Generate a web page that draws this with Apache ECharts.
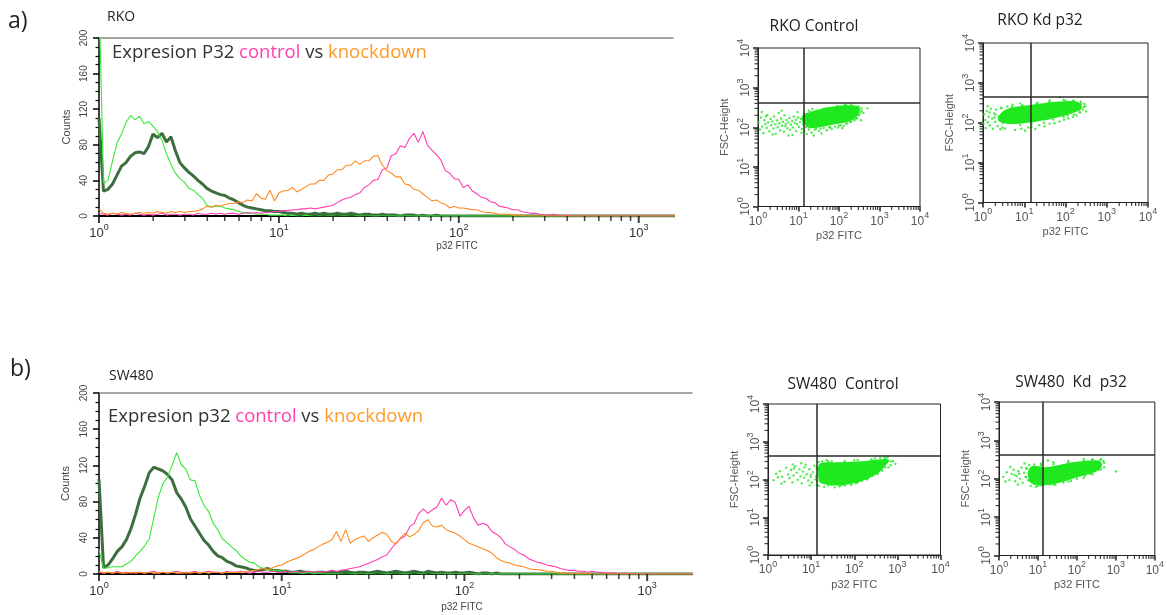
<!DOCTYPE html>
<html><head><meta charset="utf-8">
<script src="https://cdn.jsdelivr.net/npm/echarts@6/dist/echarts.min.js"></script>
<style>html,body{margin:0;padding:0;background:#fff}#c{width:1167px;height:615px}</style>
</head><body><div id="c"></div>
<script>
// ---------- histogram bin centres (p32 FITC, log-spaced channels) ----------
const fitc = [1.000,1.059,1.122,1.189,1.259,1.334,1.413,1.496,1.585,1.679,1.778,1.884,1.995,2.113,2.239,2.371,2.512,2.661,2.818,2.985,
3.162,3.350,3.548,3.758,3.981,4.217,4.467,4.732,5.012,5.309,5.623,5.957,6.310,6.683,7.079,7.499,7.943,8.414,8.913,9.441,
10.00,10.59,11.22,11.89,12.59,13.34,14.13,14.96,15.85,16.79,17.78,18.84,19.95,21.13,22.39,23.71,25.12,26.61,28.18,29.85,
31.62,33.50,35.48,37.58,39.81,42.17,44.67,47.32,50.12,53.09,56.23,59.57,63.10,66.83,70.79,74.99,79.43,84.14,89.13,94.41,
100.0,105.9,112.2,118.9,125.9,133.4,141.3,149.6,158.5,167.9,177.8,188.4,199.5,211.3,223.9,237.1,251.2,266.1,281.8,298.5,
316.2,335.0,354.8,375.8,398.1,421.7,446.7,473.2,501.2,530.9,562.3,595.7,631.0,668.3,707.9,749.9,794.3,841.4,891.3,944.1,
1000,1059,1122,1189,1259,1334,1413,1496,1585,1679,1778];

// ---------- RKO histogram counts ----------
const rkoIsoLight = [250,37,40,62,82,92,105,113,108,112, 104,106,101,95,85,70,58,48,42,38, 31,29,24,20,12,10,11,11,9,8, 7,5,4,3,3,2,2,2,1,1,
1,1,0,1,0,0,1,0,0,0, 0,0,0,0,0,0,0,0,0,0, 0,0,0,0,0,0,0,0,0,0, 0,0,0,0,0,0,0,0,0,0, 0,0,0,0,0,0,0,0,0,0,
0,0,0,0,0,0,0,0,0,0, 0,0,0,0,0,0,0,0,0,0, 0,0,0,0,0,0,0,0,0,0, 0,0,0,0,0,0,0,0,0,0, 0];
const rkoIsoDark = [110,28,30,36,46,56,60,67,71,72, 70,78,92,88,93,83,89,73,60,54, 49,45,40,36,31,28,26,24,23,20, 18,15,12,10,9,8,7,6,6,5,
5,4,3,3,2,3,2,2,3,2, 3,2,2,3,2,2,3,2,1,2, 2,1,1,2,1,1,1,0,1,1, 1,0,1,0,0,1,0,0,0,0, 0,0,0,0,0,0,0,0,0,0,
0,0,0,0,0,0,0,0,0,0, 0,0,0,0,0,0,0,0,0,0, 0,0,0,0,0,0,0,0,0,0, 0,0,0,0,0,0,0,0,0,0, 0];
const rkoControl = [3,2,1,3,2,1,2,1,3,2, 1,2,1,2,3,1,2,2,1,2, 2,1,3,2,2,3,2,3,2,3, 3,2,3,4,3,4,3,4,4,5,
5,6,6,7,7,8,8,9,8,9, 10,11,12,15,18,20,21,24,26,32, 35,40,41,52,54,68,70,79,77,87, 93,83,95,80,74,69,63,51,48,42,
41,32,35,28,25,21,20,16,15,11, 10,9,7,7,5,4,3,3,2,1, 1,2,1,0,1,0,0,0,0,0, 0,0,0,0,0,0,0,0,0,0, 0,0,0,0,0,0,0,0,0,0, 0];
const rkoKnockdown = [8,3,2,3,2,4,3,2,3,4, 3,4,3,5,4,3,5,4,5,4, 5,5,6,8,11,10,12,11,13,14, 14,16,15,18,17,25,20,19,29,17,
26,28,29,32,27,30,33,36,36,40, 40,46,47,52,52,57,57,62,58,62, 62,67,68,57,51,48,44,44,36,35, 30,29,25,21,17,18,15,13,9,11,
9,9,8,7,7,5,4,4,3,2, 2,2,1,1,1,0,0,0,0,0, 0,0,0,0,0,0,0,0,0,0, 0,0,0,0,0,0,0,0,0,0, 0,0,0,0,0,0,0,0,0,0, 0];

// ---------- SW480 histogram counts ----------
const swIsoLight = [27,6,7,8,8,8,11,14,20,25, 31,39,62,85,100,107,120,134,121,116, 104,103,87,76,69,56,49,39,35,30, 26,20,16,13,12,8,6,5,4,4,
3,3,2,2,1,1,2,1,1,0, 0,0,0,0,0,0,0,0,0,0, 0,0,0,0,0,0,0,0,0,0, 0,0,0,0,0,0,0,0,0,0, 0,0,0,0,0,0,0,0,0,0,
0,0,0,0,0,0,0,0,0,0, 0,0,0,0,0,0,0,0,0,0, 0,0,0,0,0,0,0,0,0,0, 0,0,0,0,0,0,0,0,0,0, 0];
const swIsoDark = [105,7,10,17,25,30,38,50,66,84, 97,112,118,116,114,110,104,90,83,74, 61,53,45,37,32,25,20,18,14,12, 9,8,7,5,4,4,5,6,4,4,
3,3,2,2,3,2,2,1,2,2, 1,2,1,2,3,2,1,2,2,1, 2,3,2,1,2,3,2,1,2,3, 2,1,3,2,1,2,1,1,2,1, 1,2,1,0,1,1,0,1,0,0,
0,0,0,0,0,0,0,0,0,0, 0,0,0,0,0,0,0,0,0,0, 0,0,0,0,0,0,0,0,0,0, 0,0,0,0,0,0,0,0,0,0, 0];
const swControl = [2,1,2,1,3,1,2,1,2,2, 1,2,3,1,2,1,2,3,2,1, 2,3,1,2,3,2,2,1,3,2, 2,3,2,1,2,3,2,2,3,2, 2,3,2,3,2,2,3,2,3,2,
3,4,3,4,5,6,7,8,10,12, 14,16,19,21,28,34,39,42,52,56, 67,72,67,71,74,84,76,82,79,64, 70,75,62,54,56,54,47,44,40,33,
30,27,23,21,17,15,13,12,10,9, 8,6,5,4,4,3,3,2,3,2, 2,1,1,1,0,1,0,0,0,0, 0,0,0,0,0,0,0,0,0,0, 0];
const swKnockdown = [3,1,2,1,2,1,1,2,1,2, 1,2,1,1,2,1,2,1,1,2, 1,2,1,2,1,2,2,1,2,2, 2,2,3,3,4,5,6,5,7,9,
10,13,15,17,19,22,25,27,30,33, 35,38,47,36,49,34,38,40,42,36, 40,43,46,44,36,33,40,45,41,44, 48,57,60,53,52,54,49,47,45,42,
38,34,32,30,28,26,23,18,15,13, 12,10,9,8,6,5,5,4,3,3, 2,1,1,1,0,1,0,1,0,0, 0,0,0,0,0,0,0,0,0,0, 0,0,0,0,0,0,0,0,0,0, 0];

// ---------- dot plots: dense-core outlines and scattered events [p32 FITC, FSC-Height] ----------
const rkoCtrlCore = [[16.1,229],[71.6,335],[274,349],[331,277],[222,155],[71.6,117],[19.4,95],[13.1,128],[12.1,188]];
const rkoCtrlDots = [[1.03,132],[1.12,88],[1.18,176],[1.27,104],[1.36,71],[1.45,150],[1.52,121],[1.63,96],[1.71,205],[1.78,133],[1.92,79],[2.05,162],[2.12,112],[2.27,141],[2.41,93],[2.49,188],[2.66,118],[2.73,69],[2.95,149],[3.07,101],[3.25,228],[3.38,127],[3.52,84],[3.71,166],[3.95,109],[4.14,138],[4.38,77],[4.52,199],[4.85,122],[5.08,152],[5.33,94],[5.61,131],[5.95,171],[6.21,86],[6.48,116],[6.93,143],[7.25,99],[7.66,188],[8.02,128],[8.55,154],[8.81,80],[9.22,119],[9.78,176],[10.3,102],[10.9,137],[11.5,163],[12.1,90],[12.8,121],[1.24,243],[2.31,66],[3.86,262],[5.7,62],[9.5,241],[7.1,64],[1.58,190],[4.7,107],[11.8,73],
[14,80],[16,68],[18,88],[21,74],[24,62],[27,92],[32,80],[37,70],[42,96],[50,84],[58,100],[66,90],[80,104],[95,98],[110,112],[130,108],[160,125],[190,135],[240,150],[280,170],[320,210],[360,260],[400,230],[300,300],[250,320],[120,95],[150,360],[45,300],[18,260],[22,290],[500,300],[350,150],
[14,215],[20,240],[28,265],[40,290],[55,310],[90,345],[140,365],[200,370],[300,335],[360,300],[340,240],[300,200],[260,165],[200,140],[150,125],[100,110],[60,100],[35,92],[25,88],[15,100]];
const rkoKdCore = [[3.4,209],[13.8,277],[73,339],[200,331],[251,234],[129,166],[24,110],[4.5,93],[2.3,117]];
const rkoKdDots = [[1.02,96],[1.07,162],[1.13,118],[1.16,74],[1.24,198],[1.31,103],[1.38,142],[1.47,86],[1.55,226],[1.66,128],[1.74,71],[1.86,171],[1.97,104],[2.08,214],[2.26,83],[2.44,147],[2.62,69],[2.93,76],[3.4,72],[3.9,255],[2.75,238],[1.3,260],[1.9,135],[1.45,180],
[6,66],[8.5,71],[10.5,63],[12.5,76],[15,79],[18.5,70],[23,87],[31,81],[41,95],[54,97],[72,108],[92,119],[118,128],[152,141],[185,152],[225,178],[262,214],[305,262],[285,298],[235,335],[150,358],[90,378],[73,440],[42,362],[21,318],[8,302],[5.2,282],[172,205],[318,192],[112,152],
[2,160],[2.8,230],[5,250],[9,275],[20,300],[40,330],[100,355],[160,350],[240,300],[280,250],[220,190],[160,160],[90,140],[50,120],[30,100],[15,95],[8,88],[3,98]];
const swCtrlCore = [[14.5,150],[16,265],[40,285],[178,310],[450,345],[640,330],[560,250],[290,125],[73,74],[17,80]];
const swCtrlDots = [[1.35,96],[1.55,142],[1.88,165],[2.15,118],[2.42,88],[2.63,205],[2.91,137],[3.12,108],[3.44,178],[3.68,84],[3.93,128],[4.25,225],[4.6,152],[4.92,98],[5.35,186],[5.7,121],[6.1,79],[6.45,163],[6.9,112],[7.5,246],[7.95,138],[8.6,94],[9.1,188],[9.7,118],[10.4,83],[11.1,157],[11.9,232],[12.6,101],[3.75,252],[5.9,270],[2.05,78],[9.3,70],[1.7,115],[4.0,195],[7.0,210],[10,135],
[13.5,72],[15,68],[20,64],[25,70],[35,62],[45,66],[60,68],[85,72],[110,80],[150,92],[200,105],[260,125],[350,155],[420,190],[520,210],[700,240],[790,310],[600,400],[500,380],[300,360],[100,330],[23,330],[18,300],[30,300],[380,280],[900,260],
[13,120],[13.5,200],[15,290],[25,300],[60,310],[120,330],[250,345],[400,370],[550,360],[700,300],[620,210],[450,170],[350,140],[200,100],[120,85],[50,70],[30,72],[14,90]];
const swKdCore = [[5.5,140],[7,212],[16,200],[40,235],[110,280],[350,300],[450,230],[300,150],[120,115],[30,75],[15,68],[7,74]];
const swKdDots = [[1.28,112],[1.58,148],[1.84,93],[2.12,133],[2.37,172],[2.63,86],[2.86,117],[3.15,158],[3.48,101],[3.79,196],[4.06,79],[4.42,143],[4.76,112],[5.15,183],[5.62,91],[5.95,228],[4.55,251],[3.05,71],[1.95,202],[2.5,125],[3.3,135],[1.45,85],
[6.5,65],[9,62],[12,68],[20,72],[28,70],[45,80],[70,88],[100,100],[160,120],[220,135],[380,170],[500,200],[1000,155],[480,290],[420,330],[250,320],[150,330],[60,290],[25,270],[12,250],[18,300],[300,260],[140,250],
[5,110],[5,190],[8,235],[12,225],[25,240],[60,265],[150,300],[250,320],[400,310],[500,260],[420,180],[250,130],[150,105],[60,85],[25,70],[10,66],[6,90]];

// quadrant gates [p32 FITC, FSC-Height]
const gateRkoCtrl = [13.6, 427];
const gateRkoKd = [14.0, 437];
const gateSwCtrl = [13.2, 417];
const gateSwKd = [12.9, 427];

// tick values
const histMajor = [1, 10, 100, 1000];
const histMinor = [2,3,4,5,6,7,8,9,20,30,40,50,60,70,80,90,200,300,400,500,600,700,800,900];
const dotMinor = [2,3,4,5,6,7,8,9,20,30,40,50,60,70,80,90,200,300,400,500,600,700,800,900,2000,3000,4000,5000,6000,7000,8000,9000];

// ---------- styling ----------
const C_LIGHT = '#35ea35', C_DARK = '#3d6e3d', C_PINK = '#ff3fb0', C_ORANGE = '#ff8a1f', C_DOT = '#1fe81f';
const SANS = '"Liberation Sans", Arial, sans-serif';
const HUM = '"Open Sans", "Noto Sans", sans-serif';

function pow10(v) {
  const l = Math.log10(v), e = Math.round(l);
  return Math.abs(l - e) < 1e-6 ? '{b|10}{s|' + e + '}' : '';
}
function powRich(size, color) {
  return {
    b: { fontSize: size, color: color, fontFamily: SANS, lineHeight: size + 4, verticalAlign: 'bottom' },
    s: { fontSize: Math.round(size * 0.72), color: color, fontFamily: SANS, lineHeight: size + 4, verticalAlign: 'top' }
  };
}

const grids = [
  { left: 99, top: 38, width: 574, height: 178 },
  { left: 99, top: 393, width: 593, height: 181 },
  { left: 758, top: 48, width: 162, height: 158.5, show: true, borderColor: '#222', borderWidth: 1 },
  { left: 983, top: 43, width: 165, height: 159.5, show: true, borderColor: '#222', borderWidth: 1 },
  { left: 768, top: 404, width: 172.5, height: 151, show: true, borderColor: '#222', borderWidth: 1 },
  { left: 999, top: 402, width: 163, height: 153.5, show: true, borderColor: '#222', borderWidth: 1 }
];

function histX(g, max) {
  return { type: 'log', logBase: 10, min: 1, max: max, gridIndex: g,
    axisLine: { show: true, lineStyle: { color: '#000', width: 2 } },
    axisTick: { show: false }, splitLine: { show: false },
    axisLabel: { formatter: pow10, rich: powRich(13, '#333'), margin: 7, showMaxLabel: false } };
}
function histY(g) {
  return { type: 'value', min: 0, max: 200, interval: 40, gridIndex: g,
    axisLine: { show: true, lineStyle: { color: '#000', width: 1.5 } },
    axisTick: { show: true, length: 6, lineStyle: { color: '#000', width: 1.5 } },
    minorTick: { show: true, splitNumber: 4, length: 3.5, lineStyle: { color: '#000', width: 1.2 } },
    splitLine: { show: false },
    axisLabel: { rotate: 90, fontSize: 10, color: '#444', fontFamily: SANS, margin: 10 },
    name: 'Counts', nameLocation: 'middle', nameRotate: 90, nameGap: 27,
    nameTextStyle: { fontSize: 11, color: '#444', fontFamily: SANS } };
}
function dotX(g) {
  return { type: 'log', logBase: 10, min: 1, max: 10000, gridIndex: g,
    axisLine: { show: true, lineStyle: { color: '#222', width: 1 } },
    axisTick: { show: true, length: 5, lineStyle: { color: '#222', width: 1.5 } }, splitLine: { show: false },
    axisLabel: { formatter: pow10, rich: powRich(12, '#555'), margin: 5 },
    name: 'p32 FITC', nameLocation: 'middle', nameGap: 24,
    nameTextStyle: { fontSize: 11, color: '#555', fontFamily: SANS } };
}
function dotY(g) {
  return { type: 'log', logBase: 10, min: 1, max: 10000, gridIndex: g,
    axisLine: { show: true, lineStyle: { color: '#222', width: 1 } },
    axisTick: { show: true, length: 5, lineStyle: { color: '#222', width: 1.5 } }, splitLine: { show: false },
    axisLabel: { formatter: pow10, rich: powRich(12, '#555'), margin: 6, rotate: 90 },
    name: 'FSC-Height', nameLocation: 'middle', nameRotate: 90, nameGap: 28,
    nameTextStyle: { fontSize: 11, color: '#555', fontFamily: SANS } };
}
function topLine(g) {
  return { type: 'value', min: 0, max: 1, gridIndex: g, position: 'top',
    axisLine: { show: true, onZero: false, lineStyle: { color: '#888', width: 1.5 } },
    axisTick: { show: false }, axisLabel: { show: false }, splitLine: { show: false } };
}

const xAxes = [histX(0, 1550), histX(1, 1760), dotX(2), dotX(3), dotX(4), dotX(5), topLine(0), topLine(1)];
const yAxes = [histY(0), histY(1), dotY(2), dotY(3), dotY(4), dotY(5)];

function curve(ax, ys, color, width) {
  return { type: 'line', xAxisIndex: ax, yAxisIndex: ax, data: fitc.map((x, i) => [x, ys[i]]),
    showSymbol: false, symbol: 'none', clip: true, animation: false, silent: true,
    lineStyle: { color: color, width: width }, z: 3 };
}
function core(ax, outline) {
  return { type: 'custom', xAxisIndex: ax, yAxisIndex: ax, silent: true, animation: false, clip: true, z: 2,
    data: [[1, 1]],
    renderItem: function (params, api) {
      return { type: 'polygon', shape: { points: outline.map(p => api.coord(p)), smooth: 0.35 },
        style: { fill: C_DOT } };
    } };
}
function dots(ax, pts, gate) {
  return { type: 'scatter', xAxisIndex: ax, yAxisIndex: ax, data: pts, symbolSize: 2.4, silent: true,
    animation: false, itemStyle: { color: C_DOT }, z: 2,
    markLine: { silent: true, animation: false, symbol: ['none', 'none'], label: { show: false },
      lineStyle: { color: '#2a2a2a', width: 1.5, type: 'solid' },
      data: [{ xAxis: gate[0] }, { yAxis: gate[1] }] } };
}
// log-spaced ticks as thin rect symbols hanging off the axis (positions from the axis scales)
function tickMarks(ax, vals, dir, base, len, w) {
  return { type: 'scatter', xAxisIndex: ax, yAxisIndex: ax, silent: true, animation: false, clip: false, z: 20,
    data: vals.map(v => dir === 'x' ? [v, base] : [base, v]),
    symbol: 'rect', symbolSize: dir === 'x' ? [w, len] : [len, w],
    symbolOffset: dir === 'x' ? [0, len / 2] : [-len / 2, 0],
    itemStyle: { color: '#111' } };
}

const series = [
  curve(0, rkoIsoDark, C_DARK, 3), curve(0, rkoIsoLight, C_LIGHT, 1.1),
  curve(0, rkoControl, C_PINK, 1.1), curve(0, rkoKnockdown, C_ORANGE, 1.1),
  curve(1, swIsoDark, C_DARK, 3), curve(1, swIsoLight, C_LIGHT, 1.1),
  curve(1, swControl, C_PINK, 1.1), curve(1, swKnockdown, C_ORANGE, 1.1),
  core(2, rkoCtrlCore), dots(2, rkoCtrlDots, gateRkoCtrl),
  core(3, rkoKdCore), dots(3, rkoKdDots, gateRkoKd),
  core(4, swCtrlCore), dots(4, swCtrlDots, gateSwCtrl),
  core(5, swKdCore), dots(5, swKdDots, gateSwKd),
  tickMarks(0, histMajor, 'x', 0, 7, 2), tickMarks(0, histMinor, 'x', 0, 5, 1.5),
  tickMarks(1, histMajor, 'x', 0, 7, 2), tickMarks(1, histMinor, 'x', 0, 5, 1.5)
];
[2, 3, 4, 5].forEach(ax => {
  series.push(tickMarks(ax, dotMinor, 'x', 1, 3.5, 1.2));
  series.push(tickMarks(ax, dotMinor, 'y', 1, 3.5, 1.2));
});

function txt(x, y, text, size, align) {
  return { type: 'text', x: x, y: y, silent: true,
    style: { text: text, fontSize: size, fontFamily: HUM, fill: '#222', align: align || 'left', verticalAlign: 'middle' } };
}
function titleRich(x, y, prot) {
  const f = 18.5;
  return { type: 'text', x: x, y: y, silent: true,
    style: { text: '{a|Expresion ' + prot + ' }{b|control}{a| vs }{c|knockdown}', fontSize: f, fontFamily: HUM,
      verticalAlign: 'middle', align: 'left',
      rich: { a: { fill: '#333', fontSize: f, fontFamily: HUM }, b: { fill: C_PINK, fontSize: f, fontFamily: HUM },
              c: { fill: '#ff9a2a', fontSize: f, fontFamily: HUM } } } };
}

const graphics = [
  txt(8, 21, 'a)', 23), txt(107, 17, 'RKO', 14),
  titleRich(112, 53, 'P32'),
  { type: 'text', x: 457, y: 246, silent: true, style: { text: 'p32 FITC', fontSize: 10, fontFamily: SANS, fill: '#444', align: 'center', verticalAlign: 'middle' } },
  txt(10, 369, 'b)', 23), txt(109, 376, 'SW480', 14),
  titleRich(108, 417, 'p32'),
  { type: 'text', x: 462, y: 607, silent: true, style: { text: 'p32 FITC', fontSize: 10, fontFamily: SANS, fill: '#444', align: 'center', verticalAlign: 'middle' } },
  txt(814, 27, 'RKO Control', 15.5, 'center'),
  txt(1040, 21, 'RKO Kd p32', 15.5, 'center'),
  txt(843, 385, 'SW480  Control', 15.5, 'center'),
  txt(1071, 383, 'SW480  Kd  p32', 15.5, 'center')
];

const chart = echarts.init(document.getElementById('c'), null, { renderer: 'canvas' });
chart.setOption({
  animation: false,
  backgroundColor: '#fff',
  grid: grids,
  xAxis: xAxes,
  yAxis: yAxes,
  series: series,
  graphic: graphics
});
</script>
</body></html>
